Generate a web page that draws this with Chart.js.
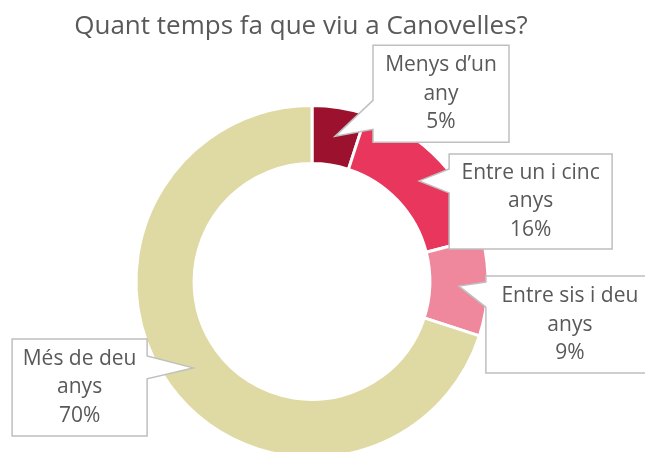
<!DOCTYPE html>
<html>
<head>
<meta charset="utf-8">
<script src="https://cdn.jsdelivr.net/npm/chart.js@4.4.1/dist/chart.umd.min.js"></script>
<style>
  html, body { margin: 0; padding: 0; background: #ffffff; overflow: hidden; }
  .contenitore { position: relative; width: 645px; height: 462px; }
</style>
</head>
<body>
<div class="contenitore">
  <canvas id="myChartPie"></canvas>
</div>
<script>

var titolo = "Quant temps fa que viu a Canovelles?";

// categorie (una riga per elemento)
var categorie = [
  ["Menys d\u2019un", "any"],
  ["Entre un i cinc", "anys"],
  ["Entre sis i deu", "anys"],
  ["Més de deu", "anys"]
];

var percentuali = [5, 16, 9, 70];

var colori = ["#9c112e", "#e8365c", "#f0889d", "#dfd9a3"];

// posizione dei riquadri rispetto al punto medio di ogni fetta
// dx, dy = angolo alto-sinistro del box rispetto alla punta, lato = dove parte la freccia
var riquadri = [
  { dx: 38, dy: -91, w: 136, h: 97, lato: "sinistra", b1: 55, b2: 84 },
  { dx: 30, dy: -27, w: 163, h: 95, lato: "sinistra", b1: 15, b2: 39 },
  { dx: 27, dy: -10, w: 168, h: 97, lato: "sinistra", b1: 6, b2: 31 },
  { dx: -181, dy: -29, w: 135, h: 97, lato: "destra", b1: 17, b2: 40 }
];

var fontTesto = "'Open Sans', 'DejaVu Sans', sans-serif";
var coloreTesto = "#595959";


function disegnaRiquadro(ctx, punta, r) {
  var x = punta.x + r.dx;
  var y = punta.y + r.dy;

  ctx.beginPath();
  if (r.lato == "sinistra") {
    ctx.moveTo(x, y);
    ctx.lineTo(x + r.w, y);
    ctx.lineTo(x + r.w, y + r.h);
    ctx.lineTo(x, y + r.h);
    ctx.lineTo(x, y + r.b2);
    ctx.lineTo(punta.x, punta.y);
    ctx.lineTo(x, y + r.b1);
  } else {
    ctx.moveTo(x, y);
    ctx.lineTo(x + r.w, y);
    ctx.lineTo(x + r.w, y + r.b1);
    ctx.lineTo(punta.x, punta.y);
    ctx.lineTo(x + r.w, y + r.b2);
    ctx.lineTo(x + r.w, y + r.h);
    ctx.lineTo(x, y + r.h);
  }
  ctx.closePath();
  ctx.fillStyle = "#ffffff";
  ctx.fill();
  ctx.lineWidth = 1.5;
  ctx.strokeStyle = "#bfbfbf";
  ctx.stroke();

  return { x: x, y: y };
}


var etichette = {
  id: "etichette",
  afterDraw: function(chart) {
    var ctx = chart.ctx;
    var meta = chart.getDatasetMeta(0);

    ctx.save();

    // titolo
    ctx.font = "26px " + fontTesto;
    ctx.fillStyle = coloreTesto;
    ctx.textAlign = "center";
    ctx.textBaseline = "alphabetic";
    ctx.fillText(titolo, 301, 34);

    for (var i = 0; i < meta.data.length; i++) {
      var arco = meta.data[i];
      var punta = arco.tooltipPosition();
      var r = riquadri[i];

      var box = disegnaRiquadro(ctx, punta, r);

      var righe = categorie[i].concat([percentuali[i] + "%"]);
      ctx.font = "21px " + fontTesto;
      ctx.fillStyle = coloreTesto;
      ctx.textAlign = "center";
      ctx.textBaseline = "middle";

      var centroY = box.y + r.h / 2;
      for (var k = 0; k < righe.length; k++) {
        ctx.fillText(righe[k], box.x + r.w / 2, centroY + (k - 1) * 28.5);
      }
    }

    ctx.restore();
  }
};


function init() {
  var ctx = document.getElementById("myChartPie").getContext("2d");

  var myChart = new Chart(ctx, {
    type: "doughnut",
    data: {
      labels: categorie.map(function(c) { return c.join(" "); }),
      datasets: [{
        data: percentuali,
        backgroundColor: colori,
        borderColor: "#ffffff",
        borderWidth: 3
      }]
    },
    options: {
      responsive: true,
      maintainAspectRatio: false,
      animation: false,
      cutout: "67%",
      layout: {
        padding: { top: 104, left: 0, right: 21, bottom: 3 }
      },
      plugins: {
        legend: { display: false },
        tooltip: { enabled: false }
      }
    },
    plugins: [etichette]
  });
}

init();
</script>
</body>
</html>
